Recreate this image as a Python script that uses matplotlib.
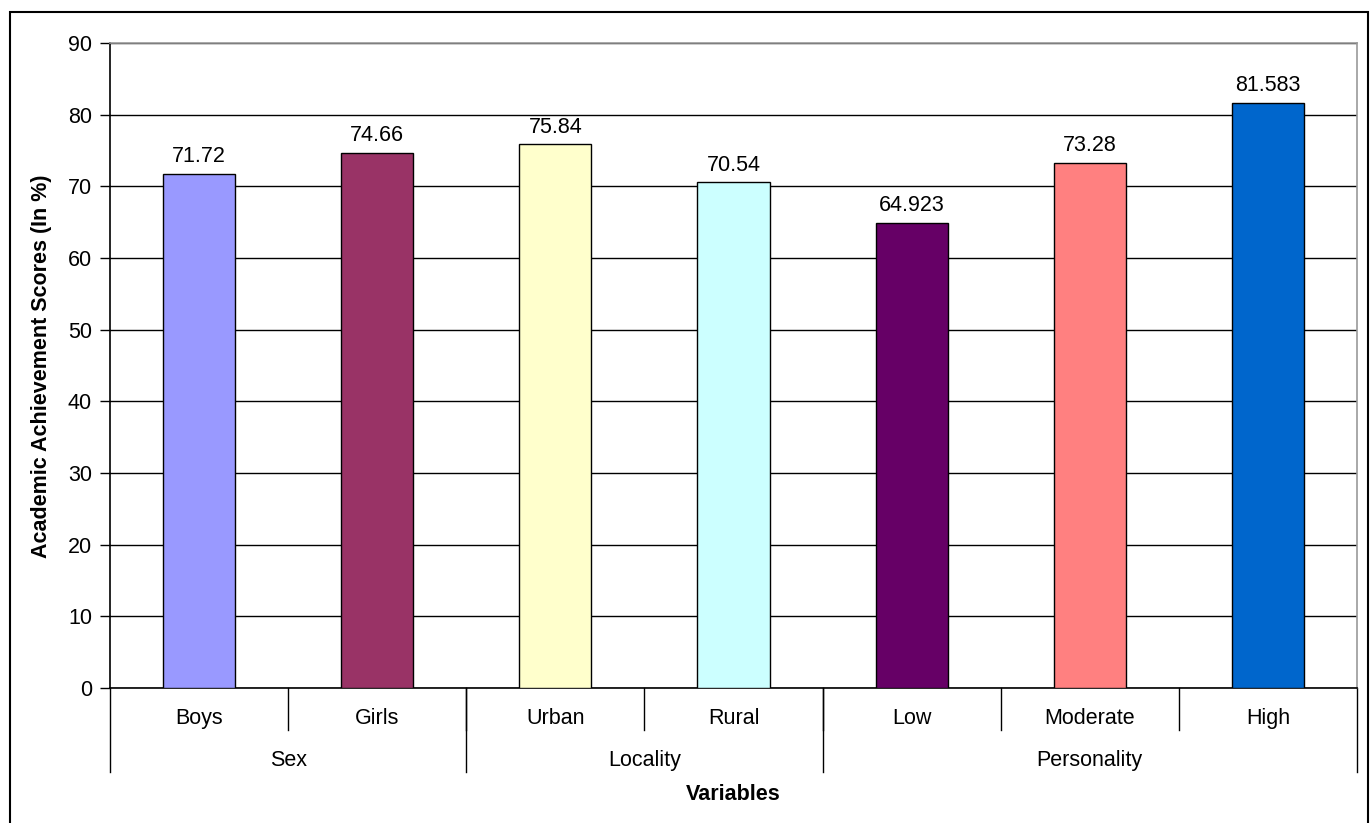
import matplotlib.pyplot as plt
from matplotlib.patches import Rectangle

plt.rcParams['font.family'] = ['Liberation Sans', 'DejaVu Sans']

categories = ["Boys", "Girls", "Urban", "Rural", "Low", "Moderate", "High"]
groups = ["Sex", "Locality", "Personality"]
group_sizes = [2, 2, 3]
scores = [71.72, 74.66, 75.84, 70.54, 64.923, 73.28, 81.583]
score_labels = ["71.72", "74.66", "75.84", "70.54", "64.923", "73.28", "81.583"]
colors = ["#9999FF", "#993366", "#FFFFCC", "#CCFFFF", "#660066", "#FF8080", "#0066CC"]

fs = 15.5

fig = plt.figure(figsize=(13.71, 8.23), dpi=100)
ax = fig.add_axes([110/1371, 1-688/823, (1357-110)/1371, (688-43)/823])

x = [i + 0.5 for i in range(len(categories))]
ax.bar(x, scores, width=0.405, color=colors, edgecolor="black", linewidth=1, zorder=3)

for xi, v, lab in zip(x, scores, score_labels):
    ax.annotate(lab, (xi, v), xytext=(0, 5), textcoords="offset points",
                ha="center", va="bottom", fontsize=fs)

ax.set_xlim(0, len(categories))
ax.set_ylim(0, 90)
ax.set_yticks(range(0, 91, 10))
ax.tick_params(axis="y", labelsize=fs, direction="out", length=7, width=1, pad=6)
ax.set_xticks([])
ax.yaxis.grid(True, color="black", linewidth=1)
ax.set_axisbelow(True)

for s in ["left", "bottom"]:
    ax.spines[s].set_color("black")
    ax.spines[s].set_linewidth(1.2)
for s in ["top", "right"]:
    ax.spines[s].set_color("#999999")
    ax.spines[s].set_linewidth(1.2)

trans = ax.get_xaxis_transform()
# category separators and labels
for i in range(1, len(categories)):
    ax.plot([i, i], [0, -0.065], transform=trans, color="black", lw=1, clip_on=False)
for xi, c in zip(x, categories):
    ax.text(xi, -0.048, c, transform=trans, ha="center", va="center", fontsize=fs)

# group separators and labels
start = 0
ax.plot([0, 0], [0, -0.13], transform=trans, color="black", lw=1, clip_on=False)
for g, n in zip(groups, group_sizes):
    end = start + n
    ax.plot([end, end], [0, -0.13], transform=trans, color="black", lw=1, clip_on=False)
    ax.text((start + end) / 2, -0.112, g, transform=trans, ha="center", va="center", fontsize=fs)
    start = end

fig.text(42/1371, 1-366/823, "Academic Achievement Scores (In %)", rotation=90,
         ha="center", va="center", fontsize=fs, fontweight="bold")
fig.text((110+1357)/2/1371, 1-795/823, "Variables", ha="center", va="center",
         fontsize=fs, fontweight="bold")

# outer chart border
fig.add_artist(Rectangle((10/1371, -0.01), (1368-10)/1371, 1.01-12/823,
                         transform=fig.transFigure, fill=False, edgecolor="black", lw=1.5))

fig.savefig("out.png", dpi=100)
